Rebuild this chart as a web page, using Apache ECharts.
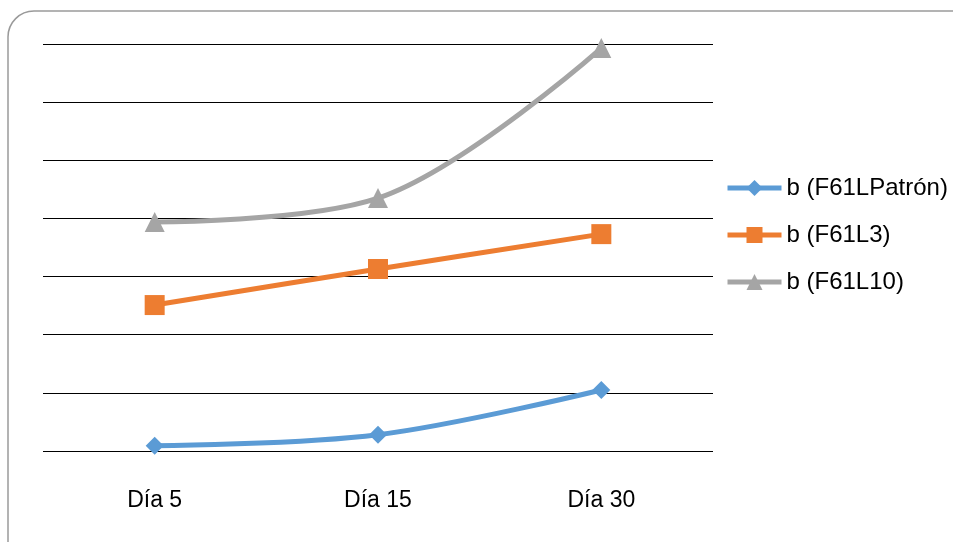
<!DOCTYPE html>
<html>
<head>
<meta charset="utf-8">
<script src="https://cdn.jsdelivr.net/npm/echarts@6/dist/echarts.min.js"></script>
<style>
  html, body {margin: 0; padding: 0; background: #fff;}
  #chart {width: 953px; height: 542px;}
</style>
</head>
<body>
<div id="chart"></div>
<script>
// categories and values (y scale has no labels, 0..7 grid units)
const categories = ['Día 5', 'Día 15', 'Día 30']
const patron = [0.09, 0.28, 1.05]
const l3 = [2.51, 3.13, 3.73]
const l10 = [3.94, 4.35, 6.93]

const chart = echarts.init(document.getElementById('chart'))

const line = (name, data, color, symbol, size) => ({
  name, type: 'line', data, smooth: 0.35,
  symbol, symbolSize: size,
  lineStyle: {color, width: 5},
  itemStyle: {color},
  emphasis: {disabled: true}
})

chart.setOption({
  animation: false,
  graphic: [{
    type: 'rect',
    shape: {x: 8, y: 11, width: 980, height: 560, r: 26},
    style: {fill: 'none', stroke: '#9a9a9a', lineWidth: 1.5},
    silent: true
  }],
  grid: {left: 43, right: 240, top: 44, bottom: 91},
  legend: {
    orient: 'vertical', left: 720, top: 171,
    itemWidth: 54, itemHeight: 20, itemGap: 23,
    lineStyle: {width: 5},
    textStyle: {fontFamily: 'Liberation Sans, Arial', fontSize: 24, color: '#000'},
    data: ['b (F61LPatrón)', 'b (F61L3)', 'b (F61L10)']
  },
  xAxis: {
    type: 'category', data: categories, boundaryGap: true,
    axisLine: {show: false}, axisTick: {show: false},
    axisLabel: {margin: 38, fontFamily: 'Liberation Sans, Arial', fontSize: 23, color: '#000'}
  },
  yAxis: {
    type: 'value', min: 0, max: 7, interval: 1,
    axisLabel: {show: false}, axisLine: {show: false}, axisTick: {show: false},
    splitLine: {lineStyle: {color: '#000', width: 1}}
  },
  series: [
    line('b (F61LPatrón)', patron, '#5B9BD5', 'diamond', 18),
    line('b (F61L3)', l3, '#ED7D31', 'rect', 20),
    line('b (F61L10)', l10, '#A5A5A5', 'triangle', 20)
  ]
})
</script>
</body>
</html>
